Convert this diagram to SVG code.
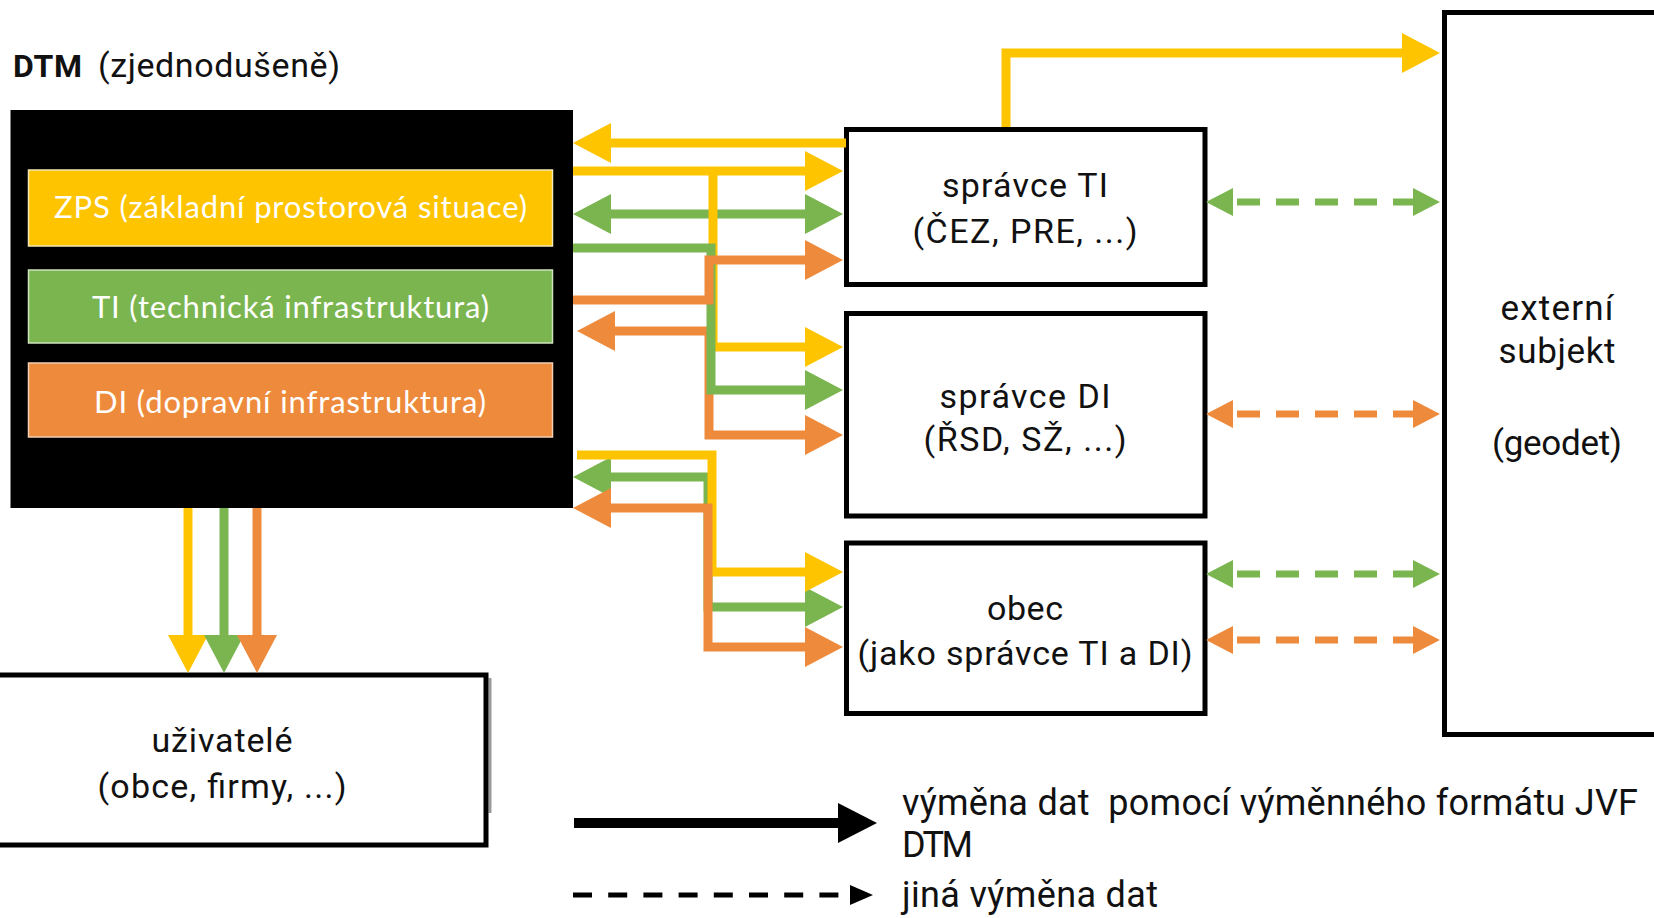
<svg xmlns="http://www.w3.org/2000/svg" width="1654" height="918" viewBox="0 0 1654 918">
<style>
.t{font-family:Roboto,"DejaVu Sans",sans-serif;fill:#111;}
.bar{font-family:Lato,"Open Sans",sans-serif;fill:#fff;font-size:31px;}
.box{fill:#fff;stroke:#000;stroke-width:5;}
.y{stroke:#FFC400;}
.g{stroke:#7AB550;}
.o{stroke:#EE8A3C;}
.c path.s{fill:none;stroke-width:9;stroke-linejoin:miter;}
.d{fill:none;stroke-width:7;stroke-dasharray:23 16;stroke-dashoffset:35;}
</style>
<defs>
<marker id="hY" markerUnits="userSpaceOnUse" markerWidth="38" markerHeight="40" viewBox="0 0 38 40" refX="0" refY="20" orient="auto-start-reverse"><path d="M0,0L38,20L0,40z" fill="#FFC400"/></marker>
<marker id="hG" markerUnits="userSpaceOnUse" markerWidth="38" markerHeight="40" viewBox="0 0 38 40" refX="0" refY="20" orient="auto-start-reverse"><path d="M0,0L38,20L0,40z" fill="#7AB550"/></marker>
<marker id="hO" markerUnits="userSpaceOnUse" markerWidth="38" markerHeight="40" viewBox="0 0 38 40" refX="0" refY="20" orient="auto-start-reverse"><path d="M0,0L38,20L0,40z" fill="#EE8A3C"/></marker>
<marker id="dG" markerUnits="userSpaceOnUse" markerWidth="27" markerHeight="28" viewBox="0 0 27 28" refX="0" refY="14" orient="auto-start-reverse"><path d="M0,0L27,14L0,28z" fill="#7AB550"/></marker>
<marker id="dO" markerUnits="userSpaceOnUse" markerWidth="27" markerHeight="28" viewBox="0 0 27 28" refX="0" refY="14" orient="auto-start-reverse"><path d="M0,0L27,14L0,28z" fill="#EE8A3C"/></marker>
</defs>
<rect width="1654" height="918" fill="#fff"/>

<g id="title">
<text class="t" x="13" y="77" font-size="32" font-weight="bold" textLength="69">DTM</text>
<text class="t" x="98" y="77" font-size="34" textLength="242">(zjednodušeně)</text>
</g>

<g id="dtm">
<rect x="10.5" y="110" width="562.5" height="398" fill="#000"/>
<rect x="28.5" y="170" width="524" height="76" fill="#FFC400" stroke="#f3e7b8" stroke-width="1.5"/>
<rect x="28.5" y="270" width="524" height="73" fill="#7AB550" stroke="#cfe3c0" stroke-width="1.5"/>
<rect x="28.5" y="363" width="524" height="74" fill="#EE8A3C" stroke="#f4cfb3" stroke-width="1.5"/>
<text class="bar" x="290.5" y="218" text-anchor="middle" textLength="473">ZPS (základní prostorová situace)</text>
<text class="bar" x="290.5" y="318" text-anchor="middle" textLength="397">TI (technická infrastruktura)</text>
<text class="bar" x="290" y="413" text-anchor="middle" textLength="392">DI (dopravní infrastruktura)</text>
</g>

<g id="spravce-ti">
<rect class="box" x="846.5" y="129.5" width="358.5" height="155"/>
<text class="t" x="1025" y="197" font-size="34" text-anchor="middle" textLength="166">správce TI</text>
<text class="t" x="1025" y="243" font-size="34" text-anchor="middle" textLength="225">(ČEZ, PRE, ...)</text>
</g>

<g id="spravce-di">
<rect class="box" x="846.5" y="313.5" width="358.5" height="202.5"/>
<text class="t" x="1025" y="408" font-size="34" text-anchor="middle" textLength="171">správce DI</text>
<text class="t" x="1025" y="451" font-size="34" text-anchor="middle" textLength="203">(ŘSD, SŽ, ...)</text>
</g>

<g id="obec">
<rect class="box" x="846.5" y="543" width="358.5" height="170.5"/>
<text class="t" x="1025" y="620" font-size="34" text-anchor="middle" textLength="76">obec</text>
<text class="t" x="1025" y="665" font-size="34" text-anchor="middle" textLength="335">(jako správce TI a DI)</text>
</g>

<g id="externi">
<rect class="box" x="1444.5" y="12.5" width="230" height="722"/>
<text class="t" x="1557" y="320" font-size="35" text-anchor="middle" textLength="113">externí</text>
<text class="t" x="1557" y="363" font-size="35" text-anchor="middle" textLength="117">subjekt</text>
<text class="t" x="1557" y="455" font-size="35" text-anchor="middle" textLength="130">(geodet)</text>
</g>

<g id="uzivatele">
<line x1="490" y1="678" x2="490" y2="813" stroke="#9a9a9a" stroke-width="3"/>
<rect class="box" x="-10" y="675" width="496" height="170"/>
<text class="t" x="222" y="752" font-size="34" text-anchor="middle" textLength="141">uživatelé</text>
<text class="t" x="222" y="798" font-size="34" text-anchor="middle" textLength="249">(obce, firmy, ...)</text>
</g>

<g id="connectors" class="c">
<path class="s g" d="M611,214H805" marker-start="url(#hG)" marker-end="url(#hG)"/>
<path class="s y" d="M846,143H611" marker-end="url(#hY)"/>
<path class="s y" d="M573,171H805" marker-end="url(#hY)"/>
<path class="s y" d="M713,171V347H805" marker-end="url(#hY)"/>
<path class="s o" d="M615,331H709V435H805" marker-start="url(#hO)" marker-end="url(#hO)"/>
<path class="s g" d="M573,248H711V390H805" marker-end="url(#hG)"/>
<path class="s o" d="M573,300H709V260H805" marker-end="url(#hO)"/>
<path class="s g" d="M611,477H708V607H805" marker-start="url(#hG)" marker-end="url(#hG)"/>
<path class="s y" d="M577,455H712V572H805" marker-end="url(#hY)"/>
<path class="s o" d="M611,508H708V647H805" marker-start="url(#hO)" marker-end="url(#hO)"/>
<path class="s y" d="M1006,127V53H1402" marker-end="url(#hY)"/>
<path class="s y" d="M188,508V635" marker-end="url(#hY)"/>
<path class="s g" d="M224,508V635" marker-end="url(#hG)"/>
<path class="s o" d="M257,508V635" marker-end="url(#hO)"/>
<path class="d g" d="M1233,202H1413" marker-start="url(#dG)" marker-end="url(#dG)"/>
<path class="d o" d="M1233,414H1413" marker-start="url(#dO)" marker-end="url(#dO)"/>
<path class="d g" d="M1233,574H1413" marker-start="url(#dG)" marker-end="url(#dG)"/>
<path class="d o" d="M1233,640H1413" marker-start="url(#dO)" marker-end="url(#dO)"/>
</g>

<g id="legend">
<path d="M574,823H840" stroke="#000" stroke-width="10" fill="none"/>
<path d="M838,803L877,823L838,843z" fill="#000"/>
<path d="M573,895H840" stroke="#000" stroke-width="5" fill="none" stroke-dasharray="19 16.2"/>
<path d="M850,885L873,895L850,905z" fill="#000"/>
<text class="t" x="902" y="815" font-size="36" textLength="736" xml:space="preserve">výměna dat  pomocí výměnného formátu JVF</text>
<text class="t" x="902" y="857" font-size="36" textLength="71">DTM</text>
<text class="t" x="902" y="907" font-size="36" textLength="256">jiná výměna dat</text>
</g>
</svg>
